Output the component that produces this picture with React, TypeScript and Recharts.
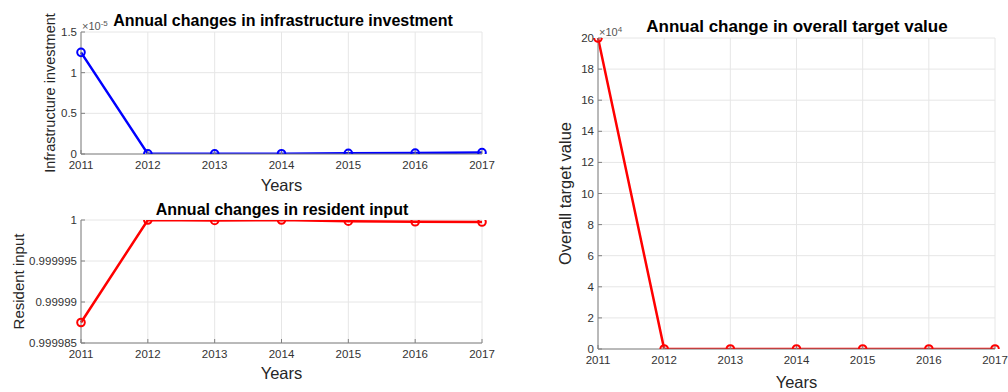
import React from "react";
import { LineChart, Line, XAxis, YAxis, CartesianGrid, Label } from "recharts";

const years = [2011, 2012, 2013, 2014, 2015, 2016, 2017];

const infrastructureInvestment = [1.25e-5, 0.002e-5, 0.002e-5, 0.003e-5, 0.008e-5, 0.012e-5, 0.018e-5];
const residentInput = [0.9999875, 1.0, 0.99999995, 1.0, 0.99999985, 0.99999978, 0.99999975];
const overallTarget = [200000, 0, 0, 0, 0, 0, 0];

const infraTicks = [0, 0.5e-5, 1e-5, 1.5e-5];
const residentTicks = [0.999985, 0.99999, 0.999995, 1];
const overallTicks = [0, 2e4, 4e4, 6e4, 8e4, 10e4, 12e4, 14e4, 16e4, 18e4, 20e4];

const FONT = '"Liberation Sans", Arial, Helvetica, sans-serif';
const AXIS = "#808080";
const TICK_TEXT = "#333333";

type PanelProps = {
  left: number;
  top: number;
  width: number;
  height: number;
  margin: { top: number; right: number };
  yAxisWidth: number;
  xAxisHeight: number;
  values: number[];
  color: string;
  yTicks: number[];
  yFormat: (v: number) => string;
  yLabel: string;
  yLabelOffset: number;
  labelSize: number;
  xLabelOffset: number;
};

const Panel = (p: PanelProps) => {
  const data = years.map((year, i) => ({ year, value: p.values[i] }));
  const domain: [number, number] = [p.yTicks[0], p.yTicks[p.yTicks.length - 1]];
  return (
    <div style={{ position: "absolute", left: p.left, top: p.top }}>
      <LineChart
        width={p.width}
        height={p.height}
        data={data}
        margin={{ top: p.margin.top, right: p.margin.right, left: 0, bottom: 0 }}
        style={{ fontFamily: FONT }}
      >
        <CartesianGrid stroke="#e6e6e6" vertical horizontal />
        <XAxis
          dataKey="year"
          type="number"
          domain={[2011, 2017]}
          ticks={years}
          height={p.xAxisHeight}
          stroke={AXIS}
          tickSize={-4}
          tickMargin={11}
          tick={{ fill: TICK_TEXT, fontSize: 11.5 }}
        >
          <Label
            value="Years"
            position="insideBottom"
            offset={p.xLabelOffset}
            style={{ fontSize: 16.5, fill: "#262626" }}
          />
        </XAxis>
        {/* top and right axes close the box, ticks only */}
        <XAxis
          xAxisId="top"
          orientation="top"
          dataKey="year"
          type="number"
          domain={[2011, 2017]}
          ticks={years}
          height={0}
          stroke={AXIS}
          tickSize={-4}
          tick={false}
        />
        <YAxis
          type="number"
          domain={domain}
          ticks={p.yTicks}
          width={p.yAxisWidth}
          stroke={AXIS}
          tickSize={-4}
          tickMargin={8}
          tickFormatter={p.yFormat}
          tick={{ fill: TICK_TEXT, fontSize: 11.5 }}
          allowDataOverflow
        >
          <Label
            value={p.yLabel}
            angle={-90}
            position="insideLeft"
            offset={p.yLabelOffset}
            style={{ fontSize: p.labelSize, fill: "#262626", textAnchor: "middle" }}
          />
        </YAxis>
        <YAxis
          yAxisId="right"
          orientation="right"
          type="number"
          domain={domain}
          ticks={p.yTicks}
          width={0}
          stroke={AXIS}
          tickSize={-4}
          tick={false}
        />
        <Line
          type="linear"
          dataKey="value"
          stroke={p.color}
          strokeWidth={2.5}
          dot={{ r: 3.8, stroke: p.color, strokeWidth: 2, fill: "none" }}
          isAnimationActive={false}
        />
      </LineChart>
    </div>
  );
};

const Title = ({ text, cx, cy, size }: { text: string; cx: number; cy: number; size: number }) => (
  <div
    style={{
      position: "absolute",
      left: cx - 250,
      top: cy - 10,
      width: 500,
      textAlign: "center",
      fontFamily: FONT,
      fontWeight: "bold",
      fontSize: size,
      lineHeight: "20px",
      color: "#000",
      whiteSpace: "nowrap",
    }}
  >
    {text}
  </div>
);

const Exponent = ({ x, y, power }: { x: number; y: number; power: string }) => (
  <div
    style={{
      position: "absolute",
      left: x,
      top: y,
      fontFamily: FONT,
      fontSize: 11,
      lineHeight: "12px",
      color: "#555",
      whiteSpace: "nowrap",
    }}
  >
    ×10<sup style={{ fontSize: 8, verticalAlign: "4px" }}>{power}</sup>
  </div>
);

const fmtScaled = (scale: number) => (v: number) => String(parseFloat((v * scale).toFixed(3)));

export default function App() {
  return (
    <div
      style={{
        position: "absolute",
        left: 0,
        top: 0,
        width: 1008,
        height: 392,
        background: "#fff",
        overflow: "hidden",
      }}
    >
      <Panel
        left={0}
        top={0}
        width={500}
        height={200}
        margin={{ top: 32, right: 18 }}
        yAxisWidth={81}
        xAxisHeight={46}
        values={infrastructureInvestment}
        color="#0000ff"
        yTicks={infraTicks}
        yFormat={fmtScaled(1e5)}
        yLabel="Infrastructure investment"
        yLabelOffset={50}
        labelSize={14.5}
        xLabelOffset={9}
      />
      <Panel
        left={0}
        top={195}
        width={500}
        height={197}
        margin={{ top: 25, right: 18 }}
        yAxisWidth={81}
        xAxisHeight={49}
        values={residentInput}
        color="#ff0000"
        yTicks={residentTicks}
        yFormat={(v: number) => String(parseFloat(v.toFixed(6)))}
        yLabel="Resident input"
        yLabelOffset={19}
        labelSize={15}
        xLabelOffset={13}
      />
      <Panel
        left={540}
        top={0}
        width={468}
        height={392}
        margin={{ top: 38, right: 13 }}
        yAxisWidth={58}
        xAxisHeight={43}
        values={overallTarget}
        color="#ff0000"
        yTicks={overallTicks}
        yFormat={fmtScaled(1e-4)}
        yLabel="Overall target value"
        yLabelOffset={25}
        labelSize={16.5}
        xLabelOffset={4}
      />
      <Exponent x={82} y={18} power="-5" />
      <Exponent x={599} y={24} power="4" />
      <Title text="Annual changes in infrastructure investment" cx={283} cy={21} size={16} />
      <Title text="Annual changes in resident input" cx={282} cy={210} size={16} />
      <Title text="Annual change in overall target value" cx={797} cy={27} size={17} />
    </div>
  );
}
